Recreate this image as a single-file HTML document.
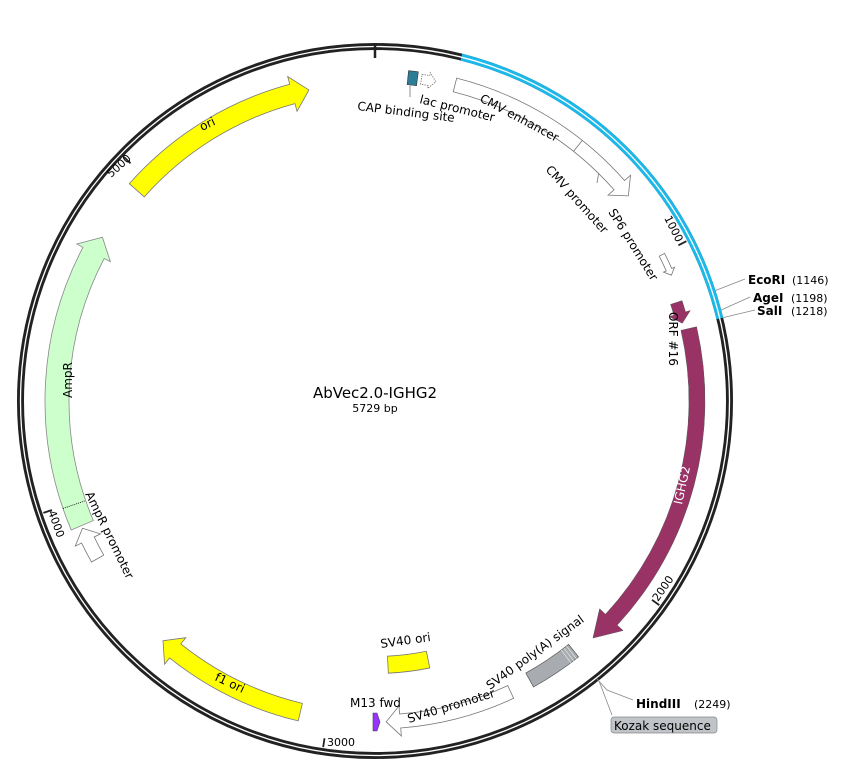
<!DOCTYPE html>
<html><head><meta charset="utf-8"><style>
html,body{margin:0;padding:0;background:#fff;}
svg{display:block;font-family:"DejaVu Sans","Liberation Sans",sans-serif;}
</style></head><body>
<svg id="s" width="846" height="784" viewBox="0 0 846 784" xmlns="http://www.w3.org/2000/svg">
<g id="shapes"></g>
<g font-size="12" fill="#000">
<text x="375" y="398" text-anchor="middle" font-size="15">AbVec2.0-IGHG2</text>
<text x="375" y="412" text-anchor="middle" font-size="11">5729 bp</text>

<text transform="translate(419,103) rotate(14)">lac promoter</text>
<text transform="translate(357,110) rotate(7)">CAP binding site</text>
<text transform="translate(479,101) rotate(28)">CMV enhancer</text>
<text transform="translate(545,170) rotate(48)">CMV promoter</text>
<text transform="translate(608,212) rotate(58)">SP6 promoter</text>
<text transform="translate(664,218) rotate(63)" font-size="11">1000</text>
<text transform="translate(669,312) rotate(90)">ORF #16</text>
<text transform="translate(682,505) rotate(-78)" fill="#fff">IGHG2</text>
<text transform="translate(658,602) rotate(-55)" font-size="11">2000</text>
<text transform="translate(490,690) rotate(-36)">SV40 poly(A) signal</text>
<text x="636" y="708" font-weight="bold" font-size="12">HindIII</text>
<text x="694" y="708" font-size="11">(2249)</text>
<text x="748" y="284" font-weight="bold" font-size="12">EcoRI</text>
<text x="792" y="284" font-size="11">(1146)</text>
<text x="753" y="302" font-weight="bold" font-size="12">AgeI</text>
<text x="791" y="302" font-size="11">(1198)</text>
<text x="757" y="315" font-weight="bold" font-size="12">SalI</text>
<text x="791" y="315" font-size="11">(1218)</text>
<rect x="611" y="717" width="106" height="16" rx="3" fill="#c0c3c7" stroke="#888" stroke-width="0.7"/>
<text x="614" y="730">Kozak sequence</text>
<text transform="translate(381,648) rotate(-8)">SV40 ori</text>
<text transform="translate(409,723) rotate(-17)">SV40 promoter</text>
<text x="350" y="707">M13 fwd</text>
<text x="327" y="746" font-size="11">3000</text>
<text transform="translate(214,680) rotate(25)">f1 ori</text>
<text transform="translate(85,494) rotate(64)">AmpR promoter</text>
<text transform="translate(48,512) rotate(70)" font-size="11">4000</text>
<text transform="translate(72,398) rotate(-90)">AmpR</text>
<text transform="translate(202,131) rotate(-25)">ori</text>
<text transform="translate(111,178) rotate(-42)" font-size="11">5000</text>
</g>
</svg>
<script>
var cx=375,cy=401,NS="http://www.w3.org/2000/svg",G=document.getElementById("shapes");
function P(a,r){var t=a*Math.PI/180;return [(cx+r*Math.sin(t)).toFixed(2),(cy-r*Math.cos(t)).toFixed(2)];}
function add(tag,at){var e=document.createElementNS(NS,tag);for(var k in at)e.setAttribute(k,at[k]);G.appendChild(e);return e;}
function arc(a1,a2,r){var p=P(a2,r);var lg=Math.abs(a2-a1)>180?1:0;var sw=a2>a1?1:0;return "A"+r+" "+r+" 0 "+lg+" "+sw+" "+p[0]+" "+p[1];}
function band(a1,a2,r,w){var o=r+w/2,i=r-w/2,p=P(a1,o),q=P(a2,i);return "M"+p[0]+" "+p[1]+arc(a1,a2,o)+"L"+q[0]+" "+q[1]+arc(a2,a1,i)+"Z";}
function arrow(a1,a2,r,w,hw,hl){var o=r+w/2,i=r-w/2,h=hl/r*180/Math.PI,ab=a2-h;
 var p=P(a1,o),b1=P(ab,r+hw/2),t=P(a2,r),b2=P(ab,r-hw/2),b3=P(ab,i);
 return "M"+p[0]+" "+p[1]+arc(a1,ab,o)+"L"+b1[0]+" "+b1[1]+"L"+t[0]+" "+t[1]+"L"+b2[0]+" "+b2[1]+"L"+b3[0]+" "+b3[1]+arc(ab,a1,i)+"Z";}
var bp=5729;function A(n){return n/bp*360;}
add("circle",{cx:cx,cy:cy,r:354.5,fill:"none",stroke:"#222",'stroke-width':7});
add("path",{d:band(14.1,A(1218),354.5,7),fill:"#1cb8ea"});
add("circle",{cx:cx,cy:cy,r:354.5,fill:"none",stroke:"#fff",'stroke-width':1.3});
[0,1000,2000,3000,4000,5000].forEach(function(n){var a=A(n),p=P(a,n==0?357:350),q=P(a,n==0?343:341);add("line",{x1:p[0],y1:p[1],x2:q[0],y2:q[1],stroke:"#222",'stroke-width':n==0?2.5:1.8});});
function ln(pts){add("polyline",{points:pts,fill:"none",stroke:"#888",'stroke-width':0.8});}
var e=P(A(1146),358);ln(e[0]+","+e[1]+" 745,279");
e=P(A(1198),358);ln(e[0]+","+e[1]+" 750,297");
e=P(A(1218),358);ln(e[0]+","+e[1]+" 755,310");
ln("597,679 607,690 633,700");ln("599,681 612,715");
var st="#777",sw=0.8;
add("path",{d:arrow(14.2,51,326,14,30,14),fill:"#fff",stroke:st,'stroke-width':sw});
var d1=P(38.5,333),d2=P(38.5,319);add("line",{x1:d1[0],y1:d1[1],x2:d2[0],y2:d2[1],stroke:st,'stroke-width':sw});
d1=P(44.5,319);add("line",{x1:d1[0],y1:d1[1],x2:597,y2:183,stroke:st,'stroke-width':sw});
add("path",{d:arrow(63,67,322,6,12,6),fill:"#fff",stroke:st,'stroke-width':sw});
add("path",{d:band(5.8,7.5,325,14),fill:"#2e7d96",stroke:"#333",'stroke-width':0.6});
add("line",{x1:410,y1:84,x2:410,y2:97,stroke:"#777",'stroke-width':0.8});
add("path",{d:arrow(8.2,10.8,325,10,16,7),fill:"#fff",stroke:"#777",'stroke-width':0.8,'stroke-dasharray':"1.5 1"});
add("path",{d:arrow(71.9,75.8,317,12,22,10),fill:"#993366",stroke:"#555",'stroke-width':0.5});
add("path",{d:arrow(77,137.4,322,16,32,26),fill:"#993366",stroke:"#555",'stroke-width':0.5});
add("path",{d:band(141.5,151,319,16),fill:"#a8acb0",stroke:"#555",'stroke-width':0.7});
for(var k=0;k<3;k++){var a=142+k*0.6,u=P(a,327),v=P(a,311);add("line",{x1:u[0],y1:u[1],x2:v[0],y2:v[1],stroke:"#eee",'stroke-width':0.6});}
add("path",{d:arrow(155,178,321,14,30,14),fill:"#fff",stroke:st,'stroke-width':sw});
add("path",{d:band(168.4,177.2,264,17),fill:"#ffff00",stroke:"#777",'stroke-width':0.8});
add("polygon",{points:"373,713 377,713 380,722 377,731 373,731",fill:"#9933ff",stroke:"#444",'stroke-width':0.6});
add("path",{d:arrow(193.5,221.5,320,18,34,16),fill:"#ffff00",stroke:"#777",'stroke-width':0.8});
add("path",{d:arrow(240.4,246.5,319,14,28,13),fill:"#fff",stroke:st,'stroke-width':sw});
add("path",{d:arrow(247,301,318,24,38,18),fill:"#ccffcc",stroke:"#888",'stroke-width':0.8});
d1=P(251,330);d2=P(251,306);add("line",{x1:d1[0],y1:d1[1],x2:d2[0],y2:d2[1],stroke:"#000",'stroke-width':0.8,'stroke-dasharray':"1 1"});
add("path",{d:arrow(311.5,348,318,20,36,17),fill:"#ffff00",stroke:"#777",'stroke-width':0.8});
</script>
</body></html>
